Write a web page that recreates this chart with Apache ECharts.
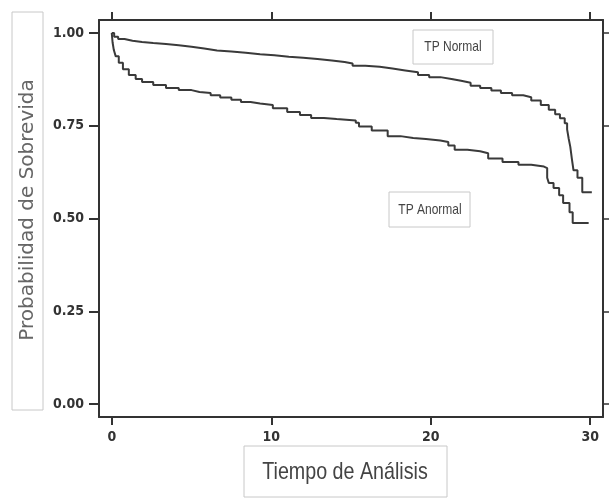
<!DOCTYPE html>
<html>
<head>
<meta charset="utf-8">
<script src="https://cdn.jsdelivr.net/npm/echarts@6/dist/echarts.min.js"></script>
<style>
  html, body { margin: 0; padding: 0; background: #fff; }
  #chart { width: 609px; height: 499px; }
</style>
</head>
<body>
<div id="chart"></div>
<script>
// tiempos y supervivencia
var tNormal = [0, 0.15, 0.4, 0.8, 1.3, 1.9, 2.6, 3.4, 4.2, 5, 5.8, 6.6, 7.5, 8.4, 9.3, 10.2, 11.1, 12, 12.9, 13.8, 14.6, 15.1, 15.9, 16.8, 17.6, 18.4, 19.2, 19.9, 20.6, 21.3, 21.9, 22.5, 23.1, 23.8, 24.4, 25.1, 25.8, 26.3, 26.9, 27.4, 27.8, 28.1, 28.4, 28.55, 28.65, 28.75, 28.85, 28.95, 29.2, 29.5, 30.1];
var sNormal = [1.0, 0.99, 0.984, 0.979, 0.976, 0.973, 0.970, 0.967, 0.963, 0.958, 0.953, 0.95, 0.947, 0.943, 0.94, 0.936, 0.933, 0.93, 0.926, 0.922, 0.918, 0.912, 0.909, 0.904, 0.899, 0.894, 0.887, 0.881, 0.876, 0.871, 0.866, 0.858, 0.852, 0.845, 0.838, 0.832, 0.827, 0.818, 0.806, 0.793, 0.781, 0.77, 0.757, 0.74, 0.715, 0.693, 0.66, 0.63, 0.61, 0.571, 0.571];

var tAnormal = [0, 0.05, 0.13, 0.25, 0.44, 0.7, 1.07, 1.5, 1.9, 2.6, 3.4, 4.2, 5, 5.5, 6.2, 6.8, 7.5, 8.1, 8.7, 9.3, 10.1, 11, 11.8, 12.5, 13.3, 14.1, 15.3, 15.5, 16.3, 17.3, 18.1, 18.9, 19.7, 20.6, 21.1, 21.5, 22.3, 23.1, 23.6, 24.5, 25.5, 26.3, 27.1, 27.3, 27.4, 27.7, 28.05, 28.3, 28.7, 28.9, 29.9];
var sAnormal = [1.0, 0.975, 0.954, 0.937, 0.92, 0.902, 0.887, 0.876, 0.868, 0.86, 0.852, 0.846, 0.841, 0.838, 0.832, 0.826, 0.82, 0.814, 0.81, 0.806, 0.797, 0.787, 0.779, 0.771, 0.768, 0.764, 0.758, 0.748, 0.737, 0.722, 0.717, 0.714, 0.71, 0.706, 0.697, 0.685, 0.681, 0.676, 0.662, 0.652, 0.645, 0.64, 0.636, 0.61, 0.596, 0.582, 0.563, 0.542, 0.517, 0.488, 0.488];

var xTicks = [0, 10, 20, 30];
var yTicks = [0, 0.25, 0.5, 0.75, 1.0];

function pares(t, s) {
    var out = [];
    for (var i = 0; i < t.length; i++) out.push([t[i], s[i]]);
    return out;
}

var mychart = echarts.init(document.getElementById('chart'));
var eje = '#333';
var fuenteNum = '"Liberation Sans Narrow", "DejaVu Sans Condensed", "Liberation Sans", sans-serif';

var option = {
    animation: false,
    grid: { left: 99, top: 20, right: 6, bottom: 82 },
    xAxis: [{
        type: 'value',
        position: 'bottom',
        min: -0.8,
        max: 30.8,
        axisLine: { onZero: false, lineStyle: { color: eje, width: 2 } },
        axisTick: { customValues: xTicks, length: 8, lineStyle: { color: eje, width: 2 } },
        axisLabel: {
            customValues: xTicks,
            margin: 13,
            color: '#333',
            fontSize: 14,
            fontWeight: 'bold',
            fontFamily: fuenteNum
        },
        splitLine: { show: false }
    }, {
        type: 'value',
        position: 'top',
        min: -0.8,
        max: 30.8,
        axisLine: { onZero: false, lineStyle: { color: eje, width: 2 } },
        axisTick: { customValues: xTicks, length: 8, lineStyle: { color: eje, width: 2 } },
        axisLabel: { show: false },
        splitLine: { show: false }
    }],
    yAxis: [{
        type: 'value',
        position: 'left',
        min: -0.035,
        max: 1.035,
        axisLine: { show: true, onZero: false, lineStyle: { color: eje, width: 2 } },
        axisTick: { show: true, customValues: yTicks, length: 10, lineStyle: { color: eje, width: 2 } },
        axisLabel: {
            customValues: yTicks,
            margin: 15,
            color: '#333',
            fontSize: 14,
            fontWeight: 'bold',
            fontFamily: fuenteNum,
            formatter: function (v) { return v.toFixed(2); }
        },
        splitLine: { show: false }
    }, {
        type: 'value',
        position: 'right',
        min: -0.035,
        max: 1.035,
        axisLine: { show: true, onZero: false, lineStyle: { color: eje, width: 2 } },
        axisTick: { show: true, customValues: yTicks, length: 6, lineStyle: { color: eje, width: 1.5 } },
        axisLabel: { show: false },
        splitLine: { show: false }
    }],
    series: [{
        name: 'TP Normal',
        type: 'line',
        step: 'end',
        symbol: 'none',
        lineStyle: { color: '#3a3a3a', width: 2 },
        data: pares(tNormal, sNormal)
    }, {
        name: 'TP Anormal',
        type: 'line',
        step: 'end',
        symbol: 'none',
        lineStyle: { color: '#3a3a3a', width: 2 },
        data: pares(tAnormal, sAnormal)
    }],
    graphic: [
        // titulo eje Y
        { type: 'rect', shape: { x: 12, y: 12, width: 31, height: 398 }, style: { fill: '#fff', stroke: '#c8c8c8', lineWidth: 1 } },
        {
            type: 'text', x: 28, y: 210, rotation: Math.PI / 2,
            style: {
                text: 'Probabilidad de Sobrevida', fill: '#666', fontSize: 20,
                fontFamily: '"DejaVu Sans", sans-serif', align: 'center', verticalAlign: 'middle'
            }
        },
        // titulo eje X
        { type: 'rect', shape: { x: 244, y: 446, width: 203, height: 51 }, style: { fill: '#fff', stroke: '#c8c8c8', lineWidth: 1 } },
        {
            type: 'text', x: 345, y: 472, scaleX: 0.82,
            style: {
                text: 'Tiempo de Análisis', fill: '#444', fontSize: 24,
                fontFamily: '"Liberation Sans", sans-serif', align: 'center', verticalAlign: 'middle'
            }
        },
        // etiquetas de las curvas
        { type: 'rect', shape: { x: 413, y: 30, width: 80, height: 34 }, style: { fill: '#fff', stroke: '#c8c8c8', lineWidth: 1 } },
        {
            type: 'text', x: 453, y: 47, scaleX: 0.8,
            style: {
                text: 'TP Normal', fill: '#444', fontSize: 15,
                fontFamily: '"Liberation Sans", sans-serif', align: 'center', verticalAlign: 'middle'
            }
        },
        { type: 'rect', shape: { x: 389, y: 192, width: 81, height: 35 }, style: { fill: '#fff', stroke: '#c8c8c8', lineWidth: 1 } },
        {
            type: 'text', x: 430, y: 210, scaleX: 0.8,
            style: {
                text: 'TP Anormal', fill: '#444', fontSize: 15,
                fontFamily: '"Liberation Sans", sans-serif', align: 'center', verticalAlign: 'middle'
            }
        }
    ]
};
mychart.setOption(option);
</script>
</body>
</html>
